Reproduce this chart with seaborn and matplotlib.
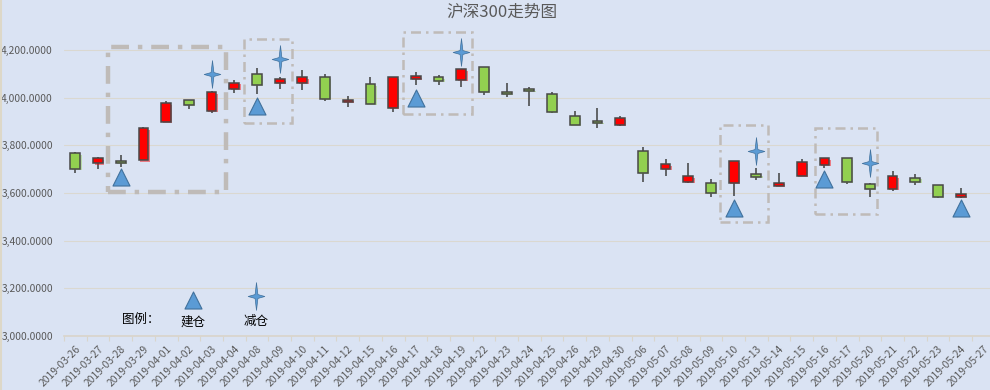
#沪深300走势图
import numpy as np
import pandas as pd
import matplotlib
matplotlib.use("Agg")
import matplotlib.pyplot as plt
import matplotlib.patheffects as pe
from matplotlib.lines import Line2D
from matplotlib.path import Path
from matplotlib.patches import Rectangle
import seaborn as sns

# 日期 (最后一天没有K线)
fechas = ["2019-03-26", "2019-03-27", "2019-03-28", "2019-03-29", "2019-04-01", "2019-04-02",
          "2019-04-03", "2019-04-04", "2019-04-08", "2019-04-09", "2019-04-10", "2019-04-11",
          "2019-04-12", "2019-04-15", "2019-04-16", "2019-04-17", "2019-04-18", "2019-04-19",
          "2019-04-22", "2019-04-23", "2019-04-24", "2019-04-25", "2019-04-26", "2019-04-29",
          "2019-04-30", "2019-05-06", "2019-05-07", "2019-05-08", "2019-05-09", "2019-05-10",
          "2019-05-13", "2019-05-14", "2019-05-15", "2019-05-16", "2019-05-17", "2019-05-20",
          "2019-05-21", "2019-05-22", "2019-05-23", "2019-05-24", "2019-05-27"]

# K线: 实体上沿, 实体下沿, 最高, 最低
arriba = [3767, 3746, 3733, 3872, 3977, 3990, 4023, 4064, 4099, 4078, 4086, 4086, 3991, 4057,
          4086, 4091, 4086, 4120, 4129, 4023, 4036, 4015, 3923, 3901, 3914, 3775, 3721, 3670,
          3640, 3733, 3678, 3644, 3729, 3745, 3745, 3636, 3670, 3665, 3632, 3594]
abajo = [3702, 3724, 3728, 3738, 3899, 3972, 3946, 4039, 4056, 4063, 4064, 3997, 3983, 3976,
         3958, 4079, 4072, 4077, 4026, 4018, 4030, 3942, 3887, 3896, 3887, 3686, 3702, 3646,
         3601, 3643, 3668, 3629, 3672, 3719, 3647, 3618, 3618, 3647, 3584, 3583]
maximo = [3773, 3750, 3759, 3878, 3986, 3990, 4029, 4075, 4124, 4086, 4116, 4099, 4008, 4088,
          4086, 4109, 4095, 4120, 4129, 4061, 4044, 4023, 3944, 3956, 3923, 3792, 3742, 3724,
          3657, 3733, 3703, 3682, 3741, 3745, 3745, 3644, 3691, 3678, 3632, 3623]
minimo = [3686, 3702, 3711, 3738, 3899, 3955, 3938, 4022, 4016, 4039, 4035, 3987, 3963, 3976,
          3942, 4056, 4056, 4047, 4014, 4005, 3967, 3938, 3887, 3875, 3882, 3648, 3672, 3643,
          3584, 3587, 3656, 3629, 3672, 3706, 3639, 3584, 3609, 3635, 3579, 3579]
# r = 红, g = 绿
colores = list("grgrrgrrgrrgrgrrgrggggggrgrrgrgrrrggrggr")

# 建仓 / 减仓 标记
idx_compra = [2, 8, 15, 29, 33, 39]
val_compra = [3666, 3966, 4001, 3537, 3658, 3535]
idx_venta = [6, 9, 17, 30, 35]
val_venta = [4100, 4162, 4193, 3775, 3724]

# 虚线框: 左, 右, 下, 上, 线宽
cajas = [(1.44, 6.64, 3603, 4213, 3.2),
         (7.43, 9.54, 3894, 4247, 1.8),
         (14.45, 17.49, 3931, 4275, 1.8),
         (28.40, 30.51, 3480, 3884, 1.8),
         (32.59, 35.32, 3510, 3872, 1.8)]

COLOR_ROJO = "#FF0000"
COLOR_VERDE = "#92D050"
COLOR_AZUL = "#5B9BD5"
COLOR_BORDE = "#41719C"
COLOR_FONDO = "#DAE3F3"
COLOR_GRIS = "#595959"

sns.set_theme(style="white")
plt.rcParams["font.family"] = ["Noto Sans CJK SC", "DejaVu Sans"]

# 四角星 (竖长横短)
estrella = Path([(0, 1), (0.1, 0.14), (0.6, 0), (0.1, -0.14), (0, -1),
                 (-0.1, -0.14), (-0.6, 0), (-0.1, 0.14), (0, 1)], closed=True)


def grafico_velas(ax, df):
    ax.vlines(df["pos"], df["minimo"], df["maximo"], color="#404040", lw=1.1, zorder=2)
    sns.barplot(data=df, x="fecha", y="alto", order=fechas, bottom=df["abajo"].values, width=0.43,
                errorbar=None, ax=ax, zorder=3, color=COLOR_VERDE, saturation=1,
                edgecolor="#484848", linewidth=1.1)
    for barra, c in zip(ax.patches, df["color"]):
        cara = COLOR_ROJO if c == "r" else COLOR_VERDE
        barra.set_facecolor(cara)
        barra.set_path_effects([pe.SimplePatchShadow(offset=(1, -1), shadow_rgbFace=cara, alpha=0.45),
                                pe.Normal()])


def grafico_marcas(ax):
    sns.scatterplot(x=idx_compra, y=val_compra, marker="^", s=150, color=COLOR_AZUL,
                    edgecolor=COLOR_BORDE, linewidth=0.8, ax=ax, zorder=5, legend=False)
    sns.scatterplot(x=idx_venta, y=val_venta, marker=estrella, s=400, color=COLOR_AZUL,
                    edgecolor=COLOR_BORDE, linewidth=0.5, ax=ax, zorder=5, legend=False)
    # 图例
    sns.scatterplot(x=[5.2], y=[3148], marker="^", s=150, color=COLOR_AZUL,
                    edgecolor=COLOR_BORDE, linewidth=0.8, ax=ax, zorder=5, legend=False)
    sns.scatterplot(x=[7.98], y=[3168], marker=estrella, s=400, color=COLOR_AZUL,
                    edgecolor=COLOR_BORDE, linewidth=0.5, ax=ax, zorder=5, legend=False)
    ax.text(2.9, 3067, "图例：", fontsize=9, color="black", ha="center", va="center")
    ax.text(5.2, 3058, "建仓", fontsize=9, color="black", ha="center", va="center")
    ax.text(7.98, 3058, "减仓", fontsize=9, color="black", ha="center", va="center")


def main():
    df = pd.DataFrame({"fecha": fechas[:40], "arriba": arriba, "abajo": abajo,
                       "maximo": maximo, "minimo": minimo, "color": colores})
    df["alto"] = df["arriba"] - df["abajo"]
    df["pos"] = np.arange(len(df))

    fig = plt.figure(figsize=(9.9, 3.9), dpi=100, facecolor=COLOR_FONDO)
    ax = fig.add_axes([64 / 990, 54.3 / 390, 930.7 / 990, 333 / 390], facecolor=COLOR_FONDO)

    grafico_velas(ax, df)
    grafico_marcas(ax)

    for x0, x1, y0, y1, lw in cajas:
        ax.add_patch(Rectangle((x0, y0), x1 - x0, y1 - y0, fill=False, edgecolor="#BFBBB8", lw=lw,
                               linestyle=(0, (4, 2, 1, 2)), zorder=1, clip_on=False))

    ax.set_xlim(-0.5, 40.5)
    ax.set_ylim(3000, 4400)
    ax.set_yticks(np.arange(3000, 4201, 200))
    ax.set_yticklabels([f"{v:,.4f}" for v in np.arange(3000, 4201, 200)])
    ax.set_xticks(np.arange(41))
    ax.set_xticklabels(fechas, rotation=45, ha="right", rotation_mode="anchor")
    ax.set_xticks(np.arange(-0.5, 41), minor=True)
    ax.set_xlabel("")
    ax.set_ylabel("")
    ax.tick_params(axis="y", length=0, pad=8, labelsize=7.4, labelcolor=COLOR_GRIS)
    ax.tick_params(axis="x", which="major", length=0, pad=6, labelsize=7.4, labelcolor=COLOR_GRIS)
    ax.tick_params(axis="x", which="minor", length=3.5, width=0.8, color="#D9D5CC", bottom=True)
    ax.grid(axis="y", color="#DAD8D0", lw=0.8)
    ax.set_axisbelow(True)
    sns.despine(ax=ax, left=True, top=True, right=True)
    ax.spines["bottom"].set_color("#D9D5CC")

    # 左边那条浅色竖线
    fig.add_artist(Line2D([0.5 / 990, 0.5 / 990], [0, 1], color="#DDD8C8", lw=1.5))
    fig.text(502 / 990, 1 - 12 / 390, "沪深300走势图", fontsize=12, color=COLOR_GRIS, ha="center", va="center")
    fig.savefig("out.png", dpi=100, facecolor=COLOR_FONDO)


if __name__ == "__main__":
    main()
